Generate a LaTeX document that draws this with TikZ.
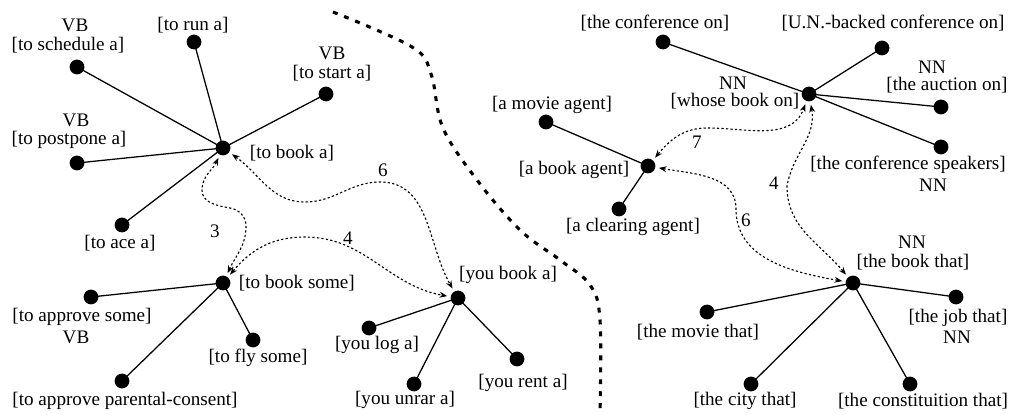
\documentclass[tikz,border=0pt]{standalone}
\usepackage{fontspec}
\setmainfont{Liberation Serif}
\usetikzlibrary{arrows.meta}
\begin{document}
\begin{tikzpicture}[x=0.025cm, y=0.025cm, >={Stealth[length=5.5pt,width=4.2pt]}, line join=round,
	font=\fontsize{13.6}{15}\selectfont,
	dot/.style={circle, fill=black, inner sep=0pt, minimum size=0.37cm, outer sep=2.5pt},
	edge/.style={line width=0.9pt},
	link/.style={<->, line width=0.8pt, dash pattern=on 1.6pt off 1.6pt},
	sep/.style={line width=2.2pt, dash pattern=on 3.5pt off 5pt}]
	\useasboundingbox (0,0) rectangle (1011,414);
	% separator
	\draw[sep] plot[smooth, tension=0.6] coordinates {(333,402) (412,367) (431,340) (443,286) (477,234) (520,184) (560,154) (590,129) (600,94) (600,0)};
	% cluster "to book a"
	\node[dot] (toBookA) at (223,266) {};
	\node[dot] (schedule) at (77,347) {};
	\node[dot] (run) at (194,372) {};
	\node[dot] (start) at (326,320) {};
	\node[dot] (postpone) at (77,251) {};
	\node[dot] (ace) at (122,189) {};
	\foreach \n in {schedule,run,start,postpone,ace}
		\draw[edge] (toBookA.center) -- (\n.center);
	\node[anchor=west] (lblToBookA) at (245,261) {[to book a]};
	\node (lblSchedule) at (68,369) {[to schedule a]};
	\node (tagSchedule) at (75,389) {VB};
	\node (lblRun) at (193,389) {[to run a]};
	\node (lblStart) at (332,341) {[to start a]};
	\node (tagStart) at (332,361) {VB};
	\node (lblPostpone) at (69,274) {[to postpone a]};
	\node (tagPostpone) at (76,294) {VB};
	\node (lblAce) at (120,171) {[to ace a]};
	% cluster "to book some"
	\node[dot] (toBookSome) at (223,131) {};
	\node[dot] (approveSome) at (91,117) {};
	\node[dot] (flySome) at (253,74) {};
	\node[dot] (parental) at (122,33) {};
	\foreach \n in {approveSome,flySome,parental}
		\draw[edge] (toBookSome.center) -- (\n.center);
	\node[anchor=west] (lblToBookSome) at (234,131) {[to book some]};
	\node (lblApproveSome) at (82,97) {[to approve some]};
	\node (tagApproveSome) at (76,77) {VB};
	\node (lblFlySome) at (258,56) {[to fly some]};
	\node (lblParental) at (125,13) {[to approve parental-consent]};
	% cluster "you book a"
	\node[dot] (youBookA) at (458,116) {};
	\node[dot] (logA) at (369,86) {};
	\node[dot] (unrarA) at (414,30) {};
	\node[dot] (rentA) at (517,55) {};
	\foreach \n in {logA,unrarA,rentA}
		\draw[edge] (youBookA.center) -- (\n.center);
	\node (lblYouBookA) at (508,139) {[you book a]};
	\node (lblLogA) at (377,69) {[you log a]};
	\node (lblUnrarA) at (405,14) {[you unrar a]};
	\node (lblRentA) at (523,31) {[you rent a]};
	% cluster "whose book on"
	\node[dot] (whoseBook) at (809,320) {};
	\node[dot] (confOn) at (663,372) {};
	\node[dot] (unBacked) at (882,366) {};
	\node[dot] (auction) at (941,307) {};
	\node[dot] (speakers) at (941,267) {};
	\foreach \n in {confOn,unBacked,auction,speakers}
		\draw[edge] (whoseBook.center) -- (\n.center);
	\node (lblWhoseBook) at (735,313) {[whose book on]};
	\node (tagWhoseBook) at (733,331) {NN};
	\node (lblConfOn) at (655,391) {[the conference on]};
	\node (lblUnBacked) at (893,391) {[U.N.-backed conference on]};
	\node (lblAuction) at (947,329) {[the auction on]};
	\node (tagAuction) at (932,347) {NN};
	\node (lblSpeakers) at (908,249) {[the conference speakers]};
	\node (tagSpeakers) at (933,229) {NN};
	% cluster "a book agent"
	\node[dot] (bookAgent) at (648,248) {};
	\node[dot] (movieAgent) at (546,292) {};
	\node[dot] (clearing) at (619,205) {};
	\foreach \n in {movieAgent,clearing}
		\draw[edge] (bookAgent.center) -- (\n.center);
	\node (lblBookAgent) at (574,244) {[a book agent]};
	\node (lblMovieAgent) at (552,309) {[a movie agent]};
	\node (lblClearing) at (633,187) {[a clearing agent]};
	% cluster "the book that"
	\node[dot] (bookThat) at (853,131) {};
	\node[dot] (movieThat) at (707,102) {};
	\node[dot] (jobThat) at (956,117) {};
	\node[dot] (cityThat) at (751,30) {};
	\node[dot] (constThat) at (910,30) {};
	\foreach \n in {movieThat,jobThat,cityThat,constThat}
		\draw[edge] (bookThat.center) -- (\n.center);
	\node (lblBookThat) at (913,152) {[the book that]};
	\node (tagBookThat) at (912,172) {NN};
	\node (lblMovieThat) at (698,82) {[the movie that]};
	\node (lblJobThat) at (958,96) {[the job that]};
	\node (tagJobThat) at (957,77) {NN};
	\node (lblCityThat) at (745,13) {[the city that]};
	\node (lblConstThat) at (923,13) {[the constituition that]};
	% dotted links
	\draw[link] (toBookA) to[out=-115,in=90] (202,224) to[out=-90,in=170] (230,206)
		to[out=-10,in=90] (246,188) to[out=-90,in=65] (toBookSome);
	\node (lblLinkA) at (215,183) {3};
	\draw[link] (toBookA) to[out=-35,in=180] (305,212) to[out=0,in=180] (380,232)
		to[out=0,in=120] (youBookA);
	\node (lblLinkB) at (383,244) {6};
	\draw[link] (toBookSome) to[out=50,in=180] (305,177) to[out=0,in=170] (youBookA);
	\node (lblLinkC) at (348,176) {4};
	\draw[link] (bookAgent) to[out=50,in=180] (707,286) to[out=0,in=-110] (whoseBook);
	\node (lblLinkD) at (697,272) {7};
	\draw[link] (whoseBook) to[out=-80,in=80] (787,228) to[out=-90,in=130] (bookThat);
	\node (lblLinkE) at (774,231) {4};
	\draw[link] (bookAgent) to[out=-10,in=90] (736,205) to[out=-90,in=170] (bookThat);
	\node (lblLinkF) at (746,194) {6};
\end{tikzpicture}
\end{document}
